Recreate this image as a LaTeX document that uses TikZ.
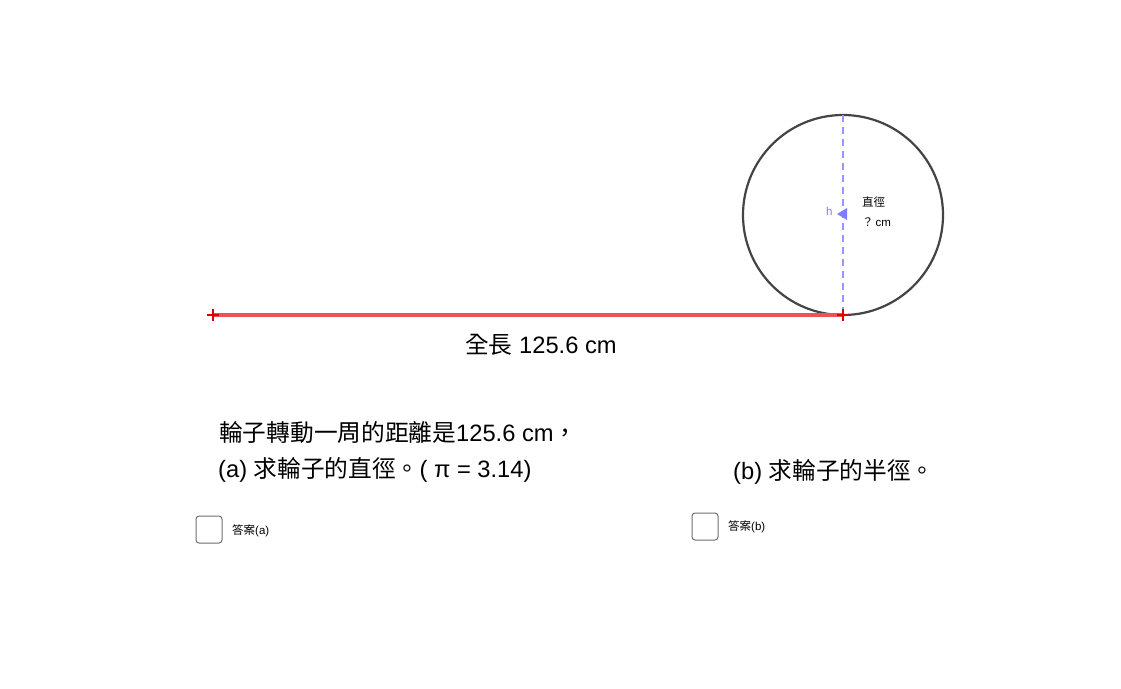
\documentclass[tikz,border=0pt]{standalone}
\usepackage{fontspec}
\usetikzlibrary{calc}
\setmainfont{Liberation Sans}
\newfontfamily\cjk{Noto Sans CJK TC}
\definecolor{seg}{RGB}{238,82,82}
\definecolor{tick}{RGB}{220,0,0}
\definecolor{dia}{RGB}{150,150,255}
\definecolor{tri}{RGB}{125,125,255}
\definecolor{rim}{RGB}{68,68,68}
\definecolor{boxc}{RGB}{110,110,110}
\begin{document}
\begin{tikzpicture}[x=1pt,y=-1pt,
  big/.style={inner sep=0pt,anchor=base west,font=\fontsize{23.7}{26}\selectfont},
  tiny/.style={inner sep=0pt,anchor=base west,font=\fontsize{11.5}{13}\selectfont},
  cbox/.style={draw=boxc,line width=1pt,rounded corners=3pt,minimum width=26pt,minimum height=27pt,inner sep=0pt}]
\useasboundingbox (0,0) rectangle (1121,688);
\coordinate (A) at (213,315);
\coordinate (B) at (843,315);
\coordinate (T) at (843,115);
\coordinate (O) at (843,215);
% wheel
\draw[rim,line width=2.2pt] (O) circle[radius=100];
% diameter
\draw[dia,line width=1.6pt,dash pattern=on 7pt off 5pt] (T) -- (B);
\fill[tri] (837,214) -- (847,208) -- (847,220) -- cycle;
\node[tiny,text=tri] (h) at (826,215) {h};
% red segment
\draw[seg,line width=4.5pt] (A) -- (B);
\draw[tick,line width=1.5pt] ($(A)+(-6,0)$) -- ($(A)+(6,0)$) ($(A)+(0,-6)$) -- ($(A)+(0,6)$);
\draw[tick,line width=1.5pt] ($(B)+(-6,0)$) -- ($(B)+(6,0)$) ($(B)+(0,-6)$) -- ($(B)+(0,6)$);
% labels
\node[tiny] (zj) at (862,206) {\cjk 直徑};
\node[tiny] (q) at (862,226) {{\cjk ？}\,cm};
\node[big] (len) at (465,353) {{\cjk 全長} 125.6 cm};
\node[big] (l1) at (219,441) {{\cjk 輪子轉動一周的距離是}125.6 cm{\cjk ，}};
\node[big] (l2) at (218,477) {(a) {\cjk 求輪子的直徑。}( π = 3.14)};
\node[big] (l3) at (733,479) {(b) {\cjk 求輪子的半徑。}};
% answer boxes
\node[cbox] (ba) at (209,529.5) {};
\node[tiny] (ta) at (232,534) {{\cjk 答案}(a)};
\node[cbox] (bb) at (705,526.5) {};
\node[tiny] (tb) at (728,530) {{\cjk 答案}(b)};
\end{tikzpicture}
\end{document}
